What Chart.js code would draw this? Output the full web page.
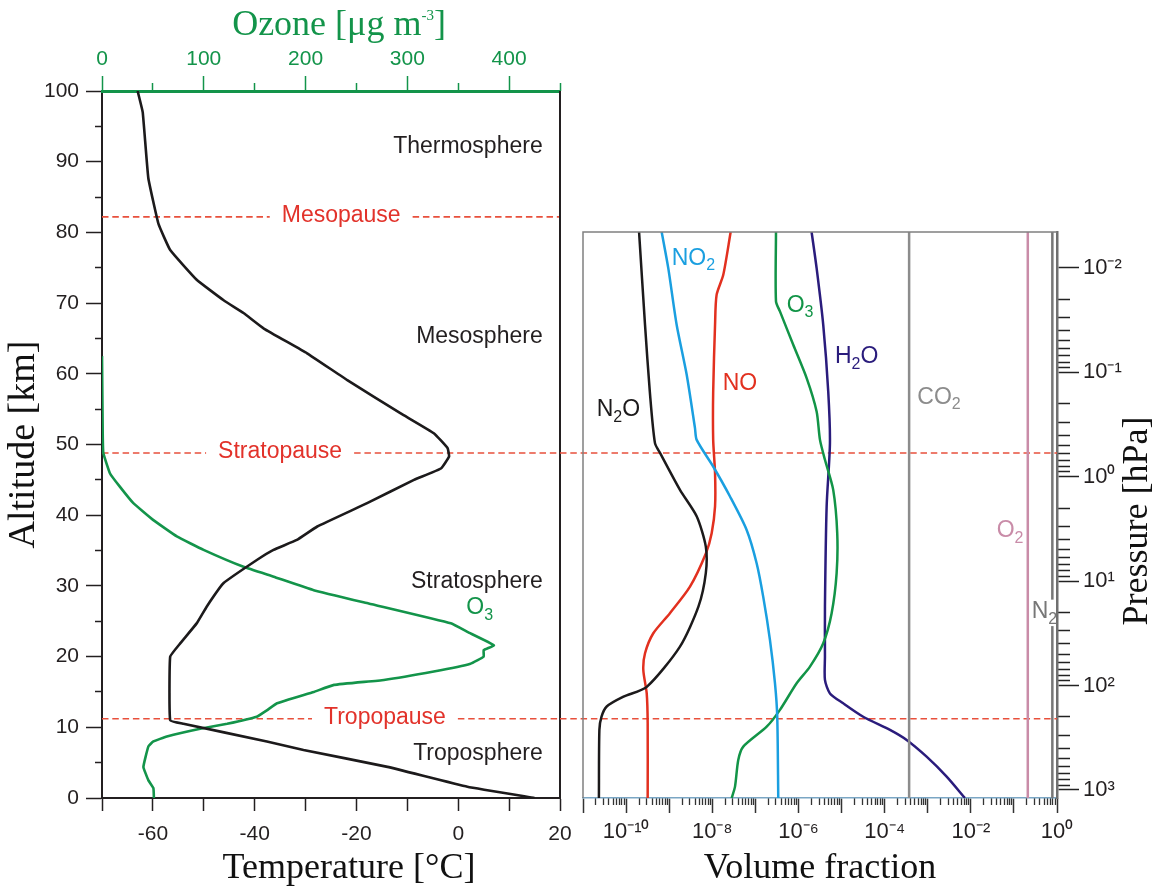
<!DOCTYPE html>
<html>
<head>
<meta charset="utf-8">
<title>Atmospheric temperature, ozone and trace gas profiles</title>
<script src="https://cdn.jsdelivr.net/npm/chart.js"></script>
<style>
  html, body { margin:0; padding:0; background:#ffffff; }
  #stage { position:relative; width:1157px; height:888px; overflow:hidden; }
  .panel { position:absolute; left:0; top:0; width:1157px; height:888px; }
  #rightPanel { pointer-events:none; }
</style>
</head>
<body>
<div id="stage">
  <div class="panel" id="leftPanel"><canvas id="leftCanvas"></canvas></div>
  <div class="panel" id="rightPanel"><canvas id="rightCanvas"></canvas></div>
</div>
<script>
// ===================== DATA =====================
// Left panel: temperature profile (altitude km, temperature °C)
const tempAltitudeKm = [100, 97.0, 87.7, 81.2, 77.5, 73.3, 70.4, 68.6, 66.4, 62.9, 59.1, 54.4, 51.6, 49.5, 48.3, 46.6, 45.0, 41.7, 38.4, 36.5, 35.1, 33.7, 30.4, 27.1, 24.7, 21.9, 20.0, 11.0, 10.5, 8.0, 6.8, 4.4, 1.6, 0];
const temperatureC   = [-63.0, -62.0, -60.9, -58.9, -56.6, -51.4, -46.1, -42.2, -38.2, -29.7, -21.8, -11.3, -4.8, -2.1, -1.8, -3.4, -8.7, -17.9, -27.7, -31.7, -36.3, -39.5, -46.1, -49.4, -51.4, -54.6, -56.6, -56.6, -54.0, -37.6, -30.4, -13.9, 1.8, 15.0];

// Left panel: ozone profile (altitude km, µg m-3)
const ozoneAltitudeKm = [62.5, 51.6, 48.8, 45.9, 44.0, 41.7, 39.3, 37.0, 35.1, 32.7, 31.3, 29.4, 27.5, 24.7, 23.5, 21.6, 20.9, 20.0, 19.0, 17.9, 16.7, 16.0, 15.0, 13.4, 12.4, 11.5, 10.5, 9.8, 8.7, 8.0, 7.3, 4.4, 2.5, 1.4, 0];
const ozoneUgm3       = [0, 0.7, 1.3, 7.9, 17.7, 30.8, 50.5, 73.5, 99.8, 139, 168.7, 208, 262, 342.7, 359, 385, 375, 375, 362, 326, 277, 228, 208, 172, 162, 152, 123, 96.5, 63.7, 50.5, 45.6, 40.7, 45.6, 50.5, 51];

// Layer boundaries (altitude km)
const boundaryNames = ['Mesopause', 'Stratopause', 'Tropopause'];
const boundaryAltKm = [82.2, 48.8, 11.2];

// Left panel tick values / labels
const altMajorTicks = [0, 10, 20, 30, 40, 50, 60, 70, 80, 90, 100];
const altMinorTicks = [5, 15, 25, 35, 45, 55, 65, 75, 85, 95];
const tempTicks = [-70, -60, -50, -40, -30, -20, -10, 0, 10, 20];
const tempTickLabels = [-60, -40, -20, 0, 20];
const ozoneMajorTicks = [0, 100, 200, 300, 400];
const ozoneMinorTicks = [50, 150, 250, 350, 450];

// Right panel: volume fraction profiles vs pressure (hPa)
const n2oP  = [4.55e-3, 0.0352, 0.153, 0.478, 0.596, 1.34, 2.41, 4.68, 8.40, 17.5, 42.4, 103, 128, 159, 199, 266, 1194];
const n2oVF = [2.0e-10, 2.75e-10, 3.55e-10, 4.68e-10, 6.17e-10, 1.78e-9, 4.37e-9, 7.08e-9, 7.08e-9, 4.79e-9, 1.78e-9, 3.02e-10, 8.7e-11, 3.55e-11, 2.69e-11, 2.40e-11, 2.34e-11];

const no2P  = [4.55e-3, 0.0101, 0.0352, 0.106, 0.343, 0.445, 0.800, 1.55, 3.24, 6.75, 14.1, 36.6, 95.1, 199, 1194];
const no2VF = [6.70e-10, 9.53e-10, 1.49e-9, 2.55e-9, 3.97e-9, 4.35e-9, 1.05e-8, 2.58e-8, 6.28e-8, 1.07e-7, 1.52e-7, 2.18e-7, 2.85e-7, 3.22e-7, 3.40e-7];

const noP  = [4.55e-3, 0.0117, 0.0182, 0.0352, 0.153, 0.445, 0.925, 1.93, 3.48, 5.41, 11.3, 20.3, 31.6, 49.1, 71.0, 119, 230, 1194];
const noVF = [2.67e-8, 1.80e-8, 1.26e-8, 1.16e-8, 1.05e-8, 1.05e-8, 1.16e-8, 1.16e-8, 9.68e-9, 7.14e-9, 3.04e-9, 1.04e-9, 4.28e-10, 2.75e-10, 2.51e-10, 3.01e-10, 3.17e-10, 3.17e-10];

const o3P  = [4.55e-3, 0.0210, 0.0262, 0.0547, 0.114, 0.238, 0.445, 0.690, 1.34, 3.48, 8.40, 20.3, 39.4, 65.9, 95.1, 171, 248, 385, 516, 929, 1194];
const o3VF = [3.01e-7, 3.01e-7, 3.72e-7, 7.57e-7, 1.55e-6, 2.64e-6, 3.16e-6, 4.12e-6, 6.41e-6, 7.94e-6, 7.69e-6, 5.89e-6, 3.76e-6, 1.85e-6, 9.08e-7, 3.72e-7, 1.83e-7, 5.24e-8, 4.01e-8, 3.37e-8, 2.82e-8];

const h2oP  = [4.55e-3, 0.0101, 0.0352, 0.153, 0.478, 1.93, 17.5, 52.8, 88.3, 119, 148, 199, 266, 332, 480, 745, 1194];
const h2oVF = [2.02e-6, 2.64e-6, 3.76e-6, 4.91e-6, 5.38e-6, 4.51e-6, 4.12e-6, 4.12e-6, 4.12e-6, 5.38e-6, 1.09e-5, 3.18e-5, 1.33e-4, 3.24e-4, 9.42e-4, 2.75e-3, 7.29e-3];

// Well-mixed gases (constant volume fraction over the pressure range)
const wellMixedP = [4.55e-3, 1194];
const co2VF = [3.7e-4, 3.7e-4];
const o2VF  = [0.21, 0.21];
const n2VF  = [0.78, 0.78];

// Right panel tick values / labels (powers of ten)
const vfDecadeExps   = [-11, -10, -9, -8, -7, -6, -5, -4, -3, -2, -1, 0];
const vfLabelExps    = [-10, -8, -6, -4, -2, 0];
const pDecadeExps    = [-2, -1, 0, 1, 2, 3];
const minorMultiples = [2, 3, 4, 5, 6, 7, 8, 9];

// Axis ranges
const VF_MIN = 1e-11, VF_MAX = 1;
const P_TOP = 4.55e-3, P_BOTTOM = 1194;

// ===================== STYLE =====================
const SANS = '"Liberation Sans", Arial, Helvetica, sans-serif';
const SERIF = '"Liberation Serif", "Times New Roman", Times, serif';
const INK = '#231f20';
const CURVE_BLACK = '#1c1a1b';
const GREEN = '#13944a';
const DASH_RED = '#e8503c';
const LABEL_RED = '#e2322a';
const C_NO2 = '#1a9fe0', C_NO = '#e2301f', C_O3 = '#129447', C_H2O = '#2a1c7c';
const C_CO2 = '#8c8c8c', C_O2 = '#c98ca8', C_N2 = '#777777';
const TICK_FONT = { family: SANS, size: 21 };
const ANNO = 23;
const TITLE_SIZE = 36;

const SUP = {'-':'\u207B','0':'\u2070','1':'\u00B9','2':'\u00B2','3':'\u00B3','4':'\u2074','5':'\u2075','6':'\u2076','7':'\u2077','8':'\u2078','9':'\u2079'};
const powLabel = e => '10' + String(e).split('').map(c => SUP[c]).join('');
const pairs = (xs, ys) => xs.map((v, i) => ({ x: v, y: ys[i] }));
const decades = exps => exps.map(e => ({ value: Math.pow(10, e) }));
const minorLog = exps => {
  const out = [];
  exps.slice(0, -1).forEach(e => minorMultiples.forEach(m => out.push({ value: m * Math.pow(10, e) })));
  return out;
};

function richText(ctx, parts, x, baseline, align, size, color, family, smallSize, bg) {
  const small = smallSize || Math.round(size * 0.7);
  const fonts = parts.map(p => `${p[1] ? small : size}px ${family}`);
  const widths = parts.map((p, i) => { ctx.font = fonts[i]; return ctx.measureText(p[0]).width; });
  const total = widths.reduce((s, w) => s + w, 0);
  let cx = align === 'center' ? x - total / 2 : align === 'right' ? x - total : x;
  if (bg) { ctx.fillStyle = '#ffffff'; ctx.fillRect(cx - 1, baseline - size * 0.8, total - 1, size * 1.15); }
  ctx.fillStyle = color; ctx.textAlign = 'left'; ctx.textBaseline = 'alphabetic';
  parts.forEach((p, i) => {
    ctx.font = fonts[i];
    const dy = p[1] === 1 ? size * 0.24 : p[1] === 2 ? -size * 0.42 : 0;
    ctx.fillText(p[0], cx, baseline + dy);
    cx += widths[i];
  });
  return total;
}

// Text annotation placement (data coordinates)
const layerLabels = [
  { text: 'Thermosphere', t: 16.6, alt: 91.2 },
  { text: 'Mesosphere',   t: 16.6, alt: 64.3 },
  { text: 'Stratosphere', t: 16.6, alt: 29.7 },
  { text: 'Troposphere',  t: 16.6, alt: 5.4 }
];
const boundaryLabelTemp = [-23.0, -35.0, -14.4];
const gasLabels = [
  { parts: [['N'], ['2', 1], ['O']], vf: 2.08e-11, p: 0.265, color: CURVE_BLACK },
  { parts: [['NO'], ['2', 1]],       vf: 1.14e-9,  p: 9.36e-3, color: C_NO2 },
  { parts: [['NO']],                 vf: 1.75e-8,  p: 0.1476, color: C_NO },
  { parts: [['O'], ['3', 1]],        vf: 5.33e-7,  p: 0.0265, color: C_O3 },
  { parts: [['H'], ['2', 1], ['O']], vf: 7.05e-6,  p: 0.0818, color: C_H2O },
  { parts: [['CO'], ['2', 1]],       vf: 5.73e-4,  p: 0.2009, color: C_CO2 },
  { parts: [['O'], ['2', 1]],        vf: 0.0399,   p: 3.80,   color: C_O2 },
  { parts: [['N'], ['2', 1]],        vf: 0.259,    p: 22.6,   color: C_N2, bg: true }
];

const common = {
  responsive: true, maintainAspectRatio: false, animation: false, devicePixelRatio: 1,
  events: [],
  plugins: { legend: { display: false }, tooltip: { enabled: false } },
  elements: { point: { radius: 0 } }
};

// ===================== LEFT PANEL =====================
const leftDecor = {
  id: 'leftDecor',
  beforeDatasetsDraw(chart) {
    const { ctx, chartArea: a, scales: { x, y } } = chart;
    ctx.save();
    ctx.font = `${ANNO}px ${SANS}`;
    ctx.strokeStyle = DASH_RED; ctx.lineWidth = 1.6; ctx.setLineDash([6.5, 3.8]);
    boundaryNames.forEach((name, i) => {
      const py = y.getPixelForValue(boundaryAltKm[i]);
      const cx = x.getPixelForValue(boundaryLabelTemp[i]);
      const w = ctx.measureText(name).width;
      ctx.beginPath(); ctx.moveTo(a.left, py); ctx.lineTo(cx - w / 2 - 12, py); ctx.stroke();
      ctx.beginPath(); ctx.moveTo(cx + w / 2 + 12, py); ctx.lineTo(a.right, py); ctx.stroke();
    });
    ctx.restore();
  },
  afterDatasetsDraw(chart) {
    const { ctx, chartArea: a, scales: { x, y } } = chart;
    ctx.save();
    ctx.strokeStyle = INK; ctx.lineWidth = 2;
    ctx.beginPath(); ctx.moveTo(a.right, a.top); ctx.lineTo(a.right, a.bottom); ctx.stroke();
    ctx.font = `${ANNO}px ${SANS}`; ctx.fillStyle = LABEL_RED; ctx.textAlign = 'center'; ctx.textBaseline = 'middle';
    boundaryNames.forEach((n, i) => ctx.fillText(n, x.getPixelForValue(boundaryLabelTemp[i]), y.getPixelForValue(boundaryAltKm[i]) - 1.5));
    ctx.fillStyle = INK; ctx.textAlign = 'right'; ctx.textBaseline = 'alphabetic';
    layerLabels.forEach(l => ctx.fillText(l.text, x.getPixelForValue(l.t), y.getPixelForValue(l.alt)));
    richText(ctx, [['O'], ['3', 1]], x.getPixelForValue(1.6), y.getPixelForValue(26.0), 'left', ANNO, GREEN, SANS, 16);
    ctx.restore();
  },
  afterDraw(chart) {
    const { ctx, chartArea: a } = chart;
    ctx.save();
    ctx.font = `${TITLE_SIZE}px ${SERIF}`; ctx.fillStyle = '#111'; ctx.textAlign = 'center'; ctx.textBaseline = 'alphabetic';
    ctx.fillText('Temperature [\u00B0C]', (a.left + a.right) / 2 + 18, 878);
    richText(ctx, [['Ozone [\u03BCg m'], ['-3', 2], [']']], (a.left + a.right) / 2 + 8, 35, 'center', TITLE_SIZE, GREEN, SERIF, 15);
    ctx.restore();
  }
};

const leftChart = new Chart(document.getElementById('leftCanvas'), {
  type: 'line',
  data: {
    datasets: [
      { label: 'Temperature', data: pairs(temperatureC, tempAltitudeKm), xAxisID: 'x', yAxisID: 'y',
        borderColor: CURVE_BLACK, borderWidth: 2.6, tension: 0.1, pointRadius: 0, fill: false },
      { label: 'Ozone', data: pairs(ozoneUgm3, ozoneAltitudeKm), xAxisID: 'xo', yAxisID: 'y',
        borderColor: GREEN, borderWidth: 2.6, tension: 0.1, pointRadius: 0, fill: false }
    ]
  },
  options: {
    ...common,
    layout: { padding: { left: 0, top: 0, right: 597, bottom: 0 } },
    scales: {
      y: {
        type: 'linear', position: 'left', min: 0, max: 100, weight: 1,
        afterBuildTicks: s => { s.ticks = altMajorTicks.map(v => ({ value: v })); },
        afterFit: s => { s.width = 102; },
        ticks: { font: TICK_FONT, color: INK, padding: 7, autoSkip: false },
        grid: { drawOnChartArea: false, tickLength: 16, tickColor: INK, tickWidth: 1.5 },
        border: { color: INK, width: 2 },
        title: { display: true, text: 'Altitude [km]', color: '#111',
                 font: { family: SERIF, size: 38, lineHeight: 1 }, padding: { top: 5, bottom: 0 } }
      },
      yMinor: {
        type: 'linear', position: 'left', min: 0, max: 100, weight: 0,
        afterBuildTicks: s => { s.ticks = altMinorTicks.map(v => ({ value: v })); },
        afterFit: s => { s.width = 0; },
        ticks: { display: false },
        grid: { drawOnChartArea: false, tickLength: 7, tickColor: INK, tickWidth: 1.5 },
        border: { display: false }
      },
      x: {
        type: 'linear', position: 'bottom', min: -70, max: 20, weight: 1,
        afterBuildTicks: s => { s.ticks = tempTicks.map(v => ({ value: v })); },
        afterFit: s => { s.height = 90; },
        ticks: { font: TICK_FONT, color: INK, padding: 11, autoSkip: false, maxRotation: 0,
                 callback: v => tempTickLabels.includes(v) ? String(v) : '' },
        grid: { drawOnChartArea: false, tickLength: 13, tickColor: INK, tickWidth: 1.5 },
        border: { color: INK, width: 2 }
      },
      xo: {
        type: 'linear', position: 'top', min: 0, max: 450, weight: 1,
        afterBuildTicks: s => { s.ticks = ozoneMajorTicks.map(v => ({ value: v })); },
        afterFit: s => { s.height = 91; },
        ticks: { font: TICK_FONT, color: GREEN, padding: 4, autoSkip: false, maxRotation: 0 },
        grid: { drawOnChartArea: false, tickLength: 15, tickColor: GREEN, tickWidth: 1.5 },
        border: { color: GREEN, width: 3 }
      },
      xoMinor: {
        type: 'linear', position: 'top', min: 0, max: 450, weight: 0,
        afterBuildTicks: s => { s.ticks = ozoneMinorTicks.map(v => ({ value: v })); },
        afterFit: s => { s.height = 0; },
        ticks: { display: false },
        grid: { drawOnChartArea: false, tickLength: 8, tickColor: GREEN, tickWidth: 1.5 },
        border: { display: false }
      }
    }
  },
  plugins: [leftDecor]
});

// ===================== RIGHT PANEL =====================
const rightDecor = {
  id: 'rightDecor',
  beforeDatasetsDraw(chart) {
    const { ctx, chartArea: a } = chart;
    const L = leftChart;
    if (!L || !L.scales || !L.scales.y) return;
    ctx.save();
    ctx.strokeStyle = DASH_RED; ctx.lineWidth = 1.6; ctx.setLineDash([6.5, 3.8]);
    boundaryAltKm.forEach(alt => {
      const py = L.scales.y.getPixelForValue(alt);
      if (py < a.top || py > a.bottom) return;
      ctx.beginPath(); ctx.moveTo(L.chartArea.right, py); ctx.lineTo(a.right, py); ctx.stroke();
    });
    ctx.restore();
  },
  afterDatasetsDraw(chart) {
    const { ctx, chartArea: a, scales: { x, y } } = chart;
    ctx.save();
    ctx.strokeStyle = '#808080'; ctx.lineWidth = 1.5;
    ctx.beginPath(); ctx.moveTo(a.left, a.bottom); ctx.lineTo(a.left, a.top); ctx.lineTo(a.right, a.top); ctx.stroke();
    gasLabels.forEach(g => richText(ctx, g.parts, x.getPixelForValue(g.vf), y.getPixelForValue(g.p), 'left', ANNO, g.color, SANS, 16, g.bg));
    ctx.restore();
  },
  afterDraw(chart) {
    const { ctx, chartArea: a } = chart;
    ctx.save();
    ctx.translate(a.right + 90, (a.top + a.bottom) / 2 + 6);
    ctx.rotate(-Math.PI / 2);
    ctx.font = `${TITLE_SIZE}px ${SERIF}`; ctx.fillStyle = '#111'; ctx.textAlign = 'center'; ctx.textBaseline = 'alphabetic';
    ctx.fillText('Pressure [hPa]', 0, 0);
    ctx.restore();
  }
};

const lineDs = (label, vf, p, color) => ({ label, data: pairs(vf, p), xAxisID: 'x', yAxisID: 'y',
  borderColor: color, borderWidth: 2.5, tension: 0.25, pointRadius: 0, fill: false });

const rightChart = new Chart(document.getElementById('rightCanvas'), {
  type: 'line',
  data: {
    datasets: [
      lineDs('CO2', co2VF, wellMixedP, C_CO2),
      lineDs('O2', o2VF, wellMixedP, C_O2),
      lineDs('N2', n2VF, wellMixedP, C_N2),
      lineDs('N2O', n2oVF, n2oP, CURVE_BLACK),
      lineDs('NO2', no2VF, no2P, C_NO2),
      lineDs('NO', noVF, noP, C_NO),
      lineDs('O3', o3VF, o3P, C_O3),
      lineDs('H2O', h2oVF, h2oP, C_H2O)
    ]
  },
  options: {
    ...common,
    layout: { padding: { left: 583, top: 232, right: 0, bottom: 0 } },
    scales: {
      x: {
        type: 'logarithmic', position: 'bottom', min: VF_MIN, max: VF_MAX, weight: 1,
        afterBuildTicks: s => { s.ticks = decades(vfDecadeExps); },
        afterFit: s => { s.height = 90; },
        ticks: { font: { family: SANS, size: 22 }, color: INK, padding: 6, autoSkip: false, maxRotation: 0,
                 callback: v => { const e = Math.round(Math.log10(v)); return vfLabelExps.includes(e) ? powLabel(e) : ''; } },
        grid: { drawOnChartArea: false, tickLength: 15, tickColor: '#333333', tickWidth: 1.5 },
        border: { color: '#7aa6c4', width: 1.5 },
        title: { display: true, text: 'Volume fraction', color: '#111',
                 font: { family: SERIF, size: TITLE_SIZE, lineHeight: 1 }, padding: { top: 0, bottom: 1 } }
      },
      xMinor: {
        type: 'logarithmic', position: 'bottom', min: VF_MIN, max: VF_MAX, weight: 0,
        afterBuildTicks: s => { s.ticks = minorLog(vfDecadeExps); },
        afterFit: s => { s.height = 0; },
        ticks: { display: false },
        grid: { drawOnChartArea: false, tickLength: 7, tickColor: '#333333', tickWidth: 1.3 },
        border: { display: false }
      },
      y: {
        type: 'logarithmic', position: 'right', reverse: true, min: P_TOP, max: P_BOTTOM, weight: 1,
        afterBuildTicks: s => { s.ticks = decades(pDecadeExps); },
        afterFit: s => { s.width = 100; },
        ticks: { font: { family: SANS, size: 22 }, color: INK, padding: 4, autoSkip: false,
                 callback: v => powLabel(Math.round(Math.log10(v))) },
        grid: { drawOnChartArea: false, tickLength: 22, tickColor: '#222222', tickWidth: 1.5 },
        border: { color: '#707070', width: 2.5 }
      },
      yMinor: {
        type: 'logarithmic', position: 'right', reverse: true, min: P_TOP, max: P_BOTTOM, weight: 0,
        afterBuildTicks: s => { s.ticks = minorLog(pDecadeExps); },
        afterFit: s => { s.width = 0; },
        ticks: { display: false },
        grid: { drawOnChartArea: false, tickLength: 13, tickColor: '#222222', tickWidth: 1.5 },
        border: { display: false }
      }
    }
  },
  plugins: [rightDecor]
});
</script>
</body>
</html>
